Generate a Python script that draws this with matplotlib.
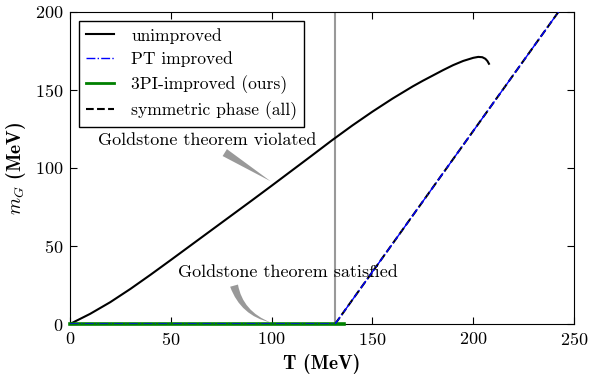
import matplotlib
matplotlib.use('Agg')
import matplotlib.pyplot as plt

plt.rcParams['font.family'] = 'serif'
plt.rcParams['font.serif'] = ['cmr10']
plt.rcParams['mathtext.fontset'] = 'cm'
plt.rcParams['axes.unicode_minus'] = False
plt.rcParams['axes.formatter.use_mathtext'] = True

# data
T_c = 131.5
T_unimp = [0, 10, 20, 30, 40, 50, 60, 70, 80, 90, 100, 110, 120, 130, 140, 150,
           160, 170, 175, 180, 185, 190, 195, 200, 202.5, 204.5, 206, 207, 207.8]
m_unimp = [0, 6.5, 14, 22.5, 31.6, 41, 50.5, 60, 69.5, 79, 88.6, 98.3, 108, 117.8,
           127.2, 136.1, 144.5, 152.3, 155.9, 159.3, 162.7, 165.9, 168.6, 170.6,
           171.2, 171.0, 170.0, 168.6, 166.8]
T_sym = [131.5, 250]
m_sym = [0, 214]
T_pt = [0, 131.5, 250]
m_pt = [0, 0, 214]
T_3pi = [0, 136]
m_3pi = [0, 0]

fig = plt.figure(figsize=(6.03, 3.81), dpi=100)
ax = fig.add_axes([0.116, 0.1496, 0.836, 0.819])

ax.axvline(T_c, color='0.6', lw=1.5, zorder=1)
ax.plot(T_unimp, m_unimp, color='k', lw=1.5, label='unimproved')
ax.plot(T_pt, m_pt, color='b', ls='-.', lw=1.0, label='PT improved', zorder=4)
ax.plot(T_3pi, m_3pi, color='g', lw=2.6, label='3PI-improved (ours)', zorder=3,
        clip_on=False)
ax.plot(T_sym, m_sym, color='k', ls='--', lw=1.5, label='symmetric phase (all)')

ax.annotate('Goldstone theorem violated', xy=(99.5, 91.5), xytext=(68, 117.5),
            ha='center', va='center', fontsize=13,
            arrowprops=dict(arrowstyle='wedge,tail_width=0.45', fc='0.6', ec='none',
                            relpos=(0.55, 0), connectionstyle='arc3,rad=0',
                            shrinkA=2, shrinkB=0))
ax.annotate('Goldstone theorem satisfied', xy=(99.5, 1), xytext=(108, 33),
            ha='center', va='center', fontsize=13,
            arrowprops=dict(arrowstyle='wedge,tail_width=0.45', fc='0.6', ec='none',
                            relpos=(0.25, 0), connectionstyle='arc3,rad=0.3',
                            shrinkA=2, shrinkB=0))

ax.set_xlim(0, 250)
ax.set_ylim(0, 200)
ax.set_xticks([0, 50, 100, 150, 200, 250])
ax.set_yticks([0, 50, 100, 150, 200])
ax.tick_params(direction='in', top=True, right=True, length=5, labelsize=13, pad=5)
ax.set_xlabel('T (MeV)', fontsize=14, family='cmb10', labelpad=4)
ax.set_ylabel('$m_G$ (MeV)', fontsize=14, family='cmb10', labelpad=5)

leg = ax.legend(loc='upper left', fontsize=12.6, fancybox=False, framealpha=1,
                edgecolor='k', handlelength=1.6, handletextpad=1.0,
                borderaxespad=0.5, labelspacing=0.45)
leg.get_frame().set_linewidth(1.0)
leg.get_lines()[2].set_linewidth(2.0)

plt.savefig('out.png', dpi=100)
